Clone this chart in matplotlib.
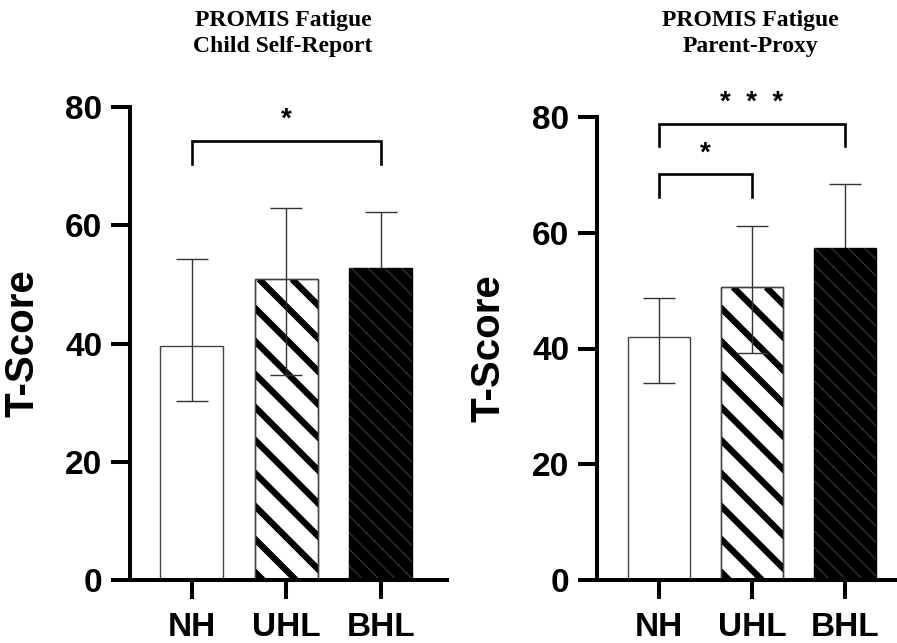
import numpy as np
import matplotlib
matplotlib.use('Agg')
from matplotlib import pyplot as plt
from matplotlib.lines import Line2D
from matplotlib.transforms import IdentityTransform

groups = ['NH', 'UHL', 'BHL']

# child self-report: mean, upper and lower end of the error bar
self_mean = [39.6, 50.9, 52.8]
self_hi = [54.3, 62.9, 62.3]
self_lo = [30.2, 34.7, 43.1]

# parent proxy
proxy_mean = [42.0, 50.6, 57.3]
proxy_hi = [48.7, 61.1, 68.5]
proxy_lo = [34.0, 39.2, 46.1]

# significance brackets: (from group, to group, bracket top, leg end, label)
self_sig = [(0, 2, 74.3, 70.4, '*')]
proxy_sig = [(0, 1, 70.1, 66.2, '*'), (0, 2, 78.8, 75.0, '*  *  *')]

titles = ['PROMIS Fatigue\nChild Self-Report', 'PROMIS Fatigue\nParent-Proxy']

SANS = 'Liberation Sans'
SERIF = 'Liberation Serif'

fig = plt.figure(figsize=(8.97, 6.43), dpi=100)
W, H = 897, 643


def panel(rect, mean, hi, lo, sig, xlim, title, title_x, label_x):
    ax = fig.add_axes(rect)
    x = np.arange(len(groups))
    mean = np.array(mean)
    bars = ax.bar(x, mean, width=0.667, color=['white', 'white', 'black'],
                  edgecolor=['#444444', '#444444', 'black'], linewidth=1.0, zorder=2)
    # faint hatching inside the black bar
    ax.bar(x[2], mean[2], width=0.667, facecolor='none', edgecolor='#303030',
           hatch=r'\\', linewidth=0, zorder=2.1)

    ax.set_xlim(*xlim)
    ax.set_ylim(0, 80)

    # wide black stripes on the UHL bar
    p = bars[1]
    bb = p.get_window_extent()
    h = bb.height
    period = 33
    for c in np.arange(bb.x0 - h + 8 - period * 30, bb.x1 + period, period):
        ln = Line2D([c, c + h], [bb.y1, bb.y0], transform=IdentityTransform(),
                    color='black', lw=4.6, solid_capstyle='butt', zorder=2.2)
        ax.add_artist(ln)
        ln.set_clip_path(p)
    ax.bar(x[1], mean[1], width=0.667, facecolor='none', edgecolor='#444444',
           linewidth=1.0, zorder=2.3)

    lo = np.array(lo)
    hi = np.array(hi)
    # NH / UHL whiskers on top of the bars, BHL whisker hidden behind its black bar
    for idx, z in [([0, 1], 4), ([2], 1.5)]:
        ax.errorbar(x[idx], mean[idx], yerr=[mean[idx] - lo[idx], hi[idx] - mean[idx]],
                    fmt='none', ecolor='#333333', elinewidth=1.0,
                    capsize=11.5, capthick=1.0, zorder=z)

    for a, b, top, leg, lab in sig:
        ax.plot([a, a, b, b], [leg, top, top, leg], color='black', lw=1.9,
                clip_on=False, solid_joinstyle='miter')
        ax.text((a + b) / 2, top + 2.4, lab, ha='center', va='baseline',
                fontsize=20, fontweight='bold', family=SANS, clip_on=False)

    ax.set_yticks([0, 20, 40, 60, 80])
    ax.set_xticks(x)
    ax.set_xticklabels(groups)
    for s in ['top', 'right']:
        ax.spines[s].set_visible(False)
    for s in ['left', 'bottom']:
        ax.spines[s].set_linewidth(2.9)
    ax.tick_params(width=2.9, length=14, labelsize=24)
    ax.tick_params(axis='y', pad=6)
    ax.tick_params(axis='x', pad=9)
    for t in ax.get_xticklabels() + ax.get_yticklabels():
        t.set_fontweight('bold')
        t.set_family(SANS)
    ax.set_ylabel('T-Score', fontsize=29, fontweight='bold', family=SANS)
    ax.yaxis.set_label_coords(label_x, 0.5)
    fig.text(title_x / W, 1 - 10 / H, title, ha='center', va='top', fontsize=17,
             fontweight='bold', family=SERIF, linespacing=1.3)
    return ax


panel([130 / W, 1 - 580 / H, 317 / W, 473 / H], self_mean, self_hi, self_lo,
      self_sig, (-0.656, 2.70), titles[0], 283, -0.278)
panel([597 / W, 1 - 580 / H, 300 / W, 463 / H], proxy_mean, proxy_hi, proxy_lo,
      proxy_sig, (-0.667, 2.56), titles[1], 750, -0.30)

fig.savefig('out.png', dpi=100)
